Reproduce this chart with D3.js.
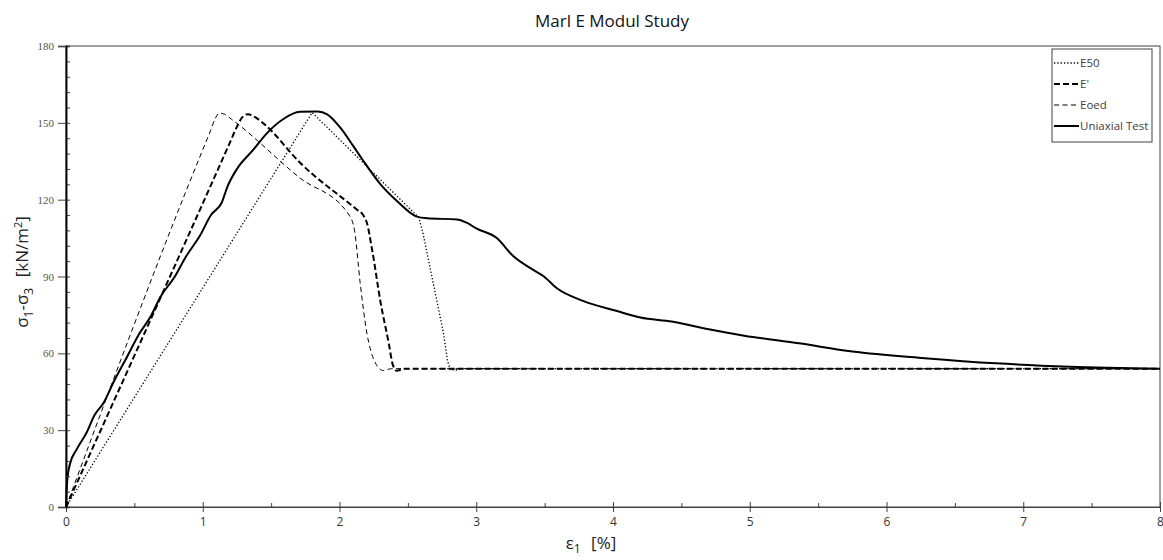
<!DOCTYPE html>
<html>
<head>
<meta charset="utf-8">
<script src="https://cdn.jsdelivr.net/npm/d3@7"></script>
<style>
  body { margin: 0; background: #fff; }
  .axis path, .axis line { stroke: #404040; }
  .axis--y path { stroke: #000; stroke-width: 1.5; }
  .axis--x text { font-family: "Open Sans", sans-serif; font-size: 12px; fill: #333; }
  .axis--y text { font-family: "Liberation Serif", serif; font-size: 11px; fill: #555; }
</style>
</head>
<body>
<svg width="1163" height="560"></svg>
<script>
// strain [%] vs deviator stress [kN/m2]
const e50Data = [
  [0, 0], [1.8, 154], [2.2, 133], [2.58, 113], [2.61, 107], [2.66, 94],
  [2.71, 81], [2.76, 68], [2.79, 57], [2.81, 53.6], [2.85, 53.5], [2.9, 54], [8, 54]
];
const ePrimeData = [
  [0, 0], [1.15, 136.5], [1.2, 142.5], [1.25, 148.5], [1.29, 152.2], [1.33, 153.4],
  [1.38, 152.3], [1.45, 149.5], [1.71, 134.5], [2.13, 116], [2.17, 114.2], [2.2, 111],
  [2.24, 100], [2.3, 80], [2.36, 64], [2.39, 55.5], [2.42, 53.2], [2.47, 54], [8, 54]
];
const eoedData = [
  [0, 0], [1.0, 139.5], [1.05, 146], [1.09, 151.5], [1.12, 153.8], [1.16, 153.3],
  [1.21, 151.4], [1.71, 128.5], [2.07, 114], [2.11, 108], [2.15, 88], [2.2, 68],
  [2.26, 56.5], [2.32, 53.3], [2.38, 54], [8, 54]
];
const uniaxialData = [
  [0, 0], [0.004, 6], [0.01, 11], [0.03, 17], [0.078, 22.5], [0.15, 29], [0.21, 36],
  [0.273, 40.5], [0.35, 49], [0.44, 58], [0.54, 68], [0.62, 74.5], [0.69, 82],
  [0.79, 89.5], [0.88, 98], [0.98, 106], [1.06, 114], [1.14, 119], [1.18, 125],
  [1.25, 132], [1.37, 139.5], [1.47, 146], [1.59, 151.5], [1.71, 154.3], [1.84, 154.4],
  [1.91, 153.3], [2.0, 148.5], [2.1, 141], [2.17, 135.5], [2.3, 126], [2.42, 119.5],
  [2.56, 113.5], [2.64, 112.7], [2.86, 112.3], [2.93, 111], [3.0, 108.8], [3.15, 105],
  [3.27, 98], [3.42, 92.5], [3.49, 90.2], [3.59, 85.4], [3.78, 80.5], [4.03, 76.5],
  [4.2, 74], [4.43, 72.4], [4.7, 69.4], [4.96, 66.9], [5.36, 63.9], [5.75, 60.7],
  [6.28, 58.1], [6.8, 56.1], [7.34, 54.8], [8, 54]
];

const xTickValues = [0, 1, 2, 3, 4, 5, 6, 7, 8];
const xMinorTicks = [0.5, 1.5, 2.5, 3.5, 4.5, 5.5, 6.5, 7.5];
const yTickValues = [0, 30, 60, 90, 120, 150, 180];
const yMinorTicks = d3.range(0, 181, 6);

const seriesNames = ["E50", "E'", "Eoed", "Uniaxial Test"];

// margin convention
const svg = d3.select("svg"),
  margin = { top: 46, right: 3, bottom: 53, left: 66 },
  width = svg.attr("width") - margin.left - margin.right,
  height = svg.attr("height") - margin.top - margin.bottom;

const x = d3.scaleLinear().domain([0, 8]).range([0, width]),
  y = d3.scaleLinear().domain([0, 180]).range([height, 0]);

const g = svg
  .append("g")
  .attr("transform", "translate(" + margin.left + "," + margin.top + ")");

// frame round the plot
g.append("rect")
  .attr("width", width)
  .attr("height", height)
  .attr("fill", "none")
  .attr("stroke", "#404040")
  .attr("stroke-width", 1);

// line styles for each series
const styles = [
  { data: e50Data, width: 1.3, dash: "1.3,2", curve: d3.curveLinear },
  { data: ePrimeData, width: 2, dash: "6,3", curve: d3.curveMonotoneX },
  { data: eoedData, width: 1, dash: "5,3.5", curve: d3.curveMonotoneX },
  { data: uniaxialData, width: 2, dash: null, curve: d3.curveMonotoneX }
];

styles.forEach((s) => {
  const line = d3
    .line()
    .x((d) => x(d[0]))
    .y((d) => y(d[1]))
    .curve(s.curve);
  g.append("path")
    .datum(s.data)
    .attr("fill", "none")
    .attr("stroke", "#000")
    .attr("stroke-width", s.width)
    .attr("stroke-dasharray", s.dash)
    .attr("d", line);
});

// x axis: crossing major ticks, small minor ticks inside
g.append("g")
  .attr("class", "axis axis--x")
  .attr("transform", "translate(0," + height + ")")
  .call(d3.axisBottom(x).tickValues(xTickValues).tickSizeOuter(0).tickSize(5).tickPadding(5));
g.append("g")
  .attr("class", "axis axis--x")
  .attr("transform", "translate(0," + height + ")")
  .call(d3.axisBottom(x).tickValues(xTickValues).tickSizeOuter(0).tickSize(-5).tickFormat(""));
g.append("g")
  .attr("class", "axis axis--x")
  .attr("transform", "translate(0," + height + ")")
  .call(d3.axisBottom(x).tickValues(xMinorTicks).tickSizeOuter(0).tickSize(-4).tickFormat(""));

// y axis: major ticks outside, minor ticks inside
g.append("g")
  .attr("class", "axis axis--y")
  .call(d3.axisLeft(y).tickValues(yMinorTicks).tickSizeOuter(0).tickSize(-4).tickFormat(""));
g.append("g")
  .attr("class", "axis axis--y")
  .call(d3.axisLeft(y).tickValues(yTickValues).tickSizeOuter(0).tickSize(8).tickPadding(4));

// title
svg.append("text")
  .attr("x", 612)
  .attr("y", 27)
  .attr("text-anchor", "middle")
  .style("font", "17px 'Open Sans', sans-serif")
  .style("fill", "#111")
  .text("Marl E Modul Study");

// x axis title
const xt = svg.append("text")
  .attr("x", 591)
  .attr("y", 549)
  .attr("text-anchor", "middle")
  .style("font", "17px 'Open Sans', sans-serif")
  .style("fill", "#222");
xt.append("tspan").text("ε");
xt.append("tspan").attr("baseline-shift", "-4").style("font-size", "12px").text("1");
xt.append("tspan").attr("dx", 6).text(" [%]");

// y axis title
const yt = svg.append("text")
  .attr("transform", "translate(28,272) rotate(-90)")
  .attr("text-anchor", "middle")
  .style("font", "17px 'Open Sans', sans-serif")
  .style("fill", "#222");
yt.append("tspan").text("σ");
yt.append("tspan").attr("baseline-shift", "-5").style("font-size", "12px").text("1");
yt.append("tspan").text("-σ");
yt.append("tspan").attr("baseline-shift", "-5").style("font-size", "12px").text("3");
yt.append("tspan").attr("dx", 6).text(" [kN/m");
yt.append("tspan").attr("baseline-shift", "6").style("font-size", "11px").text("2");
yt.append("tspan").text("]");

// legend
const legend = svg.append("g").attr("transform", "translate(1052,49)");
legend.append("rect")
  .attr("width", 100)
  .attr("height", 93)
  .attr("fill", "#fff")
  .attr("stroke", "#404040")
  .attr("stroke-width", 1);

const item = legend
  .selectAll(".item")
  .data(seriesNames)
  .enter()
  .append("g")
  .attr("class", "item")
  .attr("transform", (d, i) => "translate(0," + (14 + i * 21) + ")");
item.append("line")
  .attr("x1", 2)
  .attr("x2", 27)
  .attr("stroke", "#000")
  .attr("stroke-width", (d, i) => styles[i].width)
  .attr("stroke-dasharray", (d, i) => styles[i].dash);
item.append("text")
  .attr("x", 28)
  .attr("dy", "0.35em")
  .style("font", "11.5px 'Open Sans', sans-serif")
  .style("fill", "#404040")
  .text((d) => d);
</script>
</body>
</html>
